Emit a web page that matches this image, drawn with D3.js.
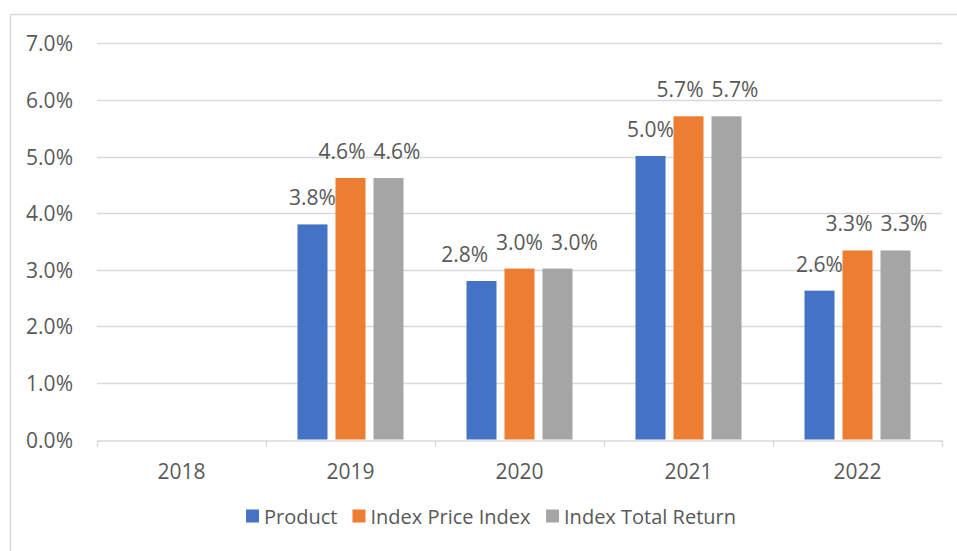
<!DOCTYPE html>
<html>
<head>
<meta charset="utf-8">
<script src="https://cdn.jsdelivr.net/npm/d3@7"></script>
<style>
  html, body { margin: 0; padding: 0; background: #fff; }
  svg { display: block; }
  text { font-family: "Open Sans", "Noto Sans", sans-serif; fill: #595959; }
</style>
</head>
<body>
<svg id="chart" width="957" height="551"></svg>
<script>
const categories = ["2018", "2019", "2020", "2021", "2022"];
const seriesNames = ["Product", "Index Price Index", "Index Total Return"];
const product = [null, 0.0380, 0.0280, 0.0501, 0.0263];
const indexPrice = [null, 0.0462, 0.0302, 0.0571, 0.0334];
const indexTotal = [null, 0.0462, 0.0302, 0.0571, 0.0334];
const yTicks = [0, 0.01, 0.02, 0.03, 0.04, 0.05, 0.06, 0.07];
const colors = ["#4472C4", "#ED7D31", "#A5A5A5"];

const seriesValues = [product, indexPrice, indexTotal];

const svg = d3.select("#chart");
const W = 957, H = 551;
const plot = { left: 97, right: 942, top: 43.3, bottom: 439.5 };
const numFont = "21px";

// outer chart border
svg.append("rect")
  .attr("x", 10.5).attr("y", 14.5)
  .attr("width", W + 20).attr("height", H + 20)
  .attr("fill", "none").attr("stroke", "#D9D9D9").attr("stroke-width", 1.5);

const x = d3.scaleBand().domain(categories).range([plot.left, plot.right]).padding(0);
const y = d3.scaleLinear().domain([0, 0.07]).range([plot.bottom, plot.top]);

const barW = 30, barGap = 8;
const groupW = 3 * barW + 2 * barGap;
const x1 = d3.scaleBand().domain(seriesNames)
  .range([0, groupW]).paddingInner(barGap / (barW + barGap)).paddingOuter(0);

// gridlines
const fmt = d3.format(".1%");
svg.append("g").selectAll("line").data(yTicks.filter(t => t > 0)).join("line")
  .attr("x1", plot.left).attr("x2", plot.right)
  .attr("y1", d => Math.round(y(d)) + 0.5).attr("y2", d => Math.round(y(d)) + 0.5)
  .attr("stroke", "#D9D9D9").attr("stroke-width", 1.3);

// y labels
svg.append("g").selectAll("text").data(yTicks).join("text")
  .attr("x", 73).attr("y", d => y(d))
  .attr("text-anchor", "end").attr("dominant-baseline", "central")
  .style("font-size", numFont)
  .text(d => fmt(d));

// x axis
const xAxis = d3.axisBottom(x).tickSize(0).tickFormat(d => d);
const xg = svg.append("g").attr("transform", `translate(0,${Math.round(plot.bottom) + 0.5})`).call(xAxis);
xg.select(".domain").attr("stroke", "#D9D9D9").attr("stroke-width", 1.3);
xg.selectAll(".tick text").attr("dy", null).attr("y", 38)
  .style("font-size", numFont).style("font-family", '"Open Sans", sans-serif').attr("fill", "#595959");
// band boundary ticks
const bounds = categories.map(c => x(c)).concat([x(categories[categories.length - 1]) + x.bandwidth()]);
svg.append("g").selectAll("line").data(bounds).join("line")
  .attr("x1", d => Math.round(d) + 0.5).attr("x2", d => Math.round(d) + 0.5)
  .attr("y1", Math.round(plot.bottom) + 0.5).attr("y2", Math.round(plot.bottom) + 7)
  .attr("stroke", "#D9D9D9").attr("stroke-width", 1.3);

// bars
const groups = svg.append("g").selectAll("g").data(categories).join("g")
  .attr("transform", d => `translate(${x(d) + (x.bandwidth() - groupW) / 2},0)`);

const barData = (c, i) => seriesNames.map((s, k) => ({ s, k, v: seriesValues[k][i] })).filter(d => d.v != null);

groups.selectAll("rect").data((c, i) => barData(c, i)).join("rect")
  .attr("x", d => x1(d.s)).attr("width", x1.bandwidth())
  .attr("y", d => y(d.v)).attr("height", d => y(0) - y(d.v))
  .attr("fill", d => colors[d.k]);

// data labels with simple overlap avoidance
groups.each(function () {
  const g = d3.select(this);
  const labels = g.selectAll("text.lbl").data(g.selectAll("rect").data()).join("text")
    .attr("class", "lbl")
    .attr("text-anchor", "middle")
    .style("font-size", numFont)
    .text(d => fmt(d.v));
  const L = [];
  labels.each(function (d) {
    L.push({ node: this, cx: x1(d.s) + x1.bandwidth() / 2, by: y(d.v) - 19, w: this.getComputedTextLength() });
  });
  const minGap = 8;
  for (let it = 0; it < 100; it++) {
    let moved = false;
    for (let a = 0; a < L.length - 1; a++) {
      const p = L[a], q = L[a + 1];
      if (Math.abs(p.by - q.by) < 15) {
        const need = (p.w + q.w) / 2 + minGap - (q.cx - p.cx);
        if (need > 0.01) { p.cx -= need / 2; q.cx += need / 2; moved = true; }
      }
    }
    if (!moved) break;
  }
  L.forEach(l => d3.select(l.node).attr("x", l.cx).attr("y", l.by));
});

// legend
const legend = svg.append("g");
const items = legend.selectAll("g").data(seriesNames).join("g");
items.append("rect").attr("width", 13).attr("height", 13).attr("y", -6.5)
  .attr("fill", (d, i) => colors[i]);
items.append("text").attr("x", 18).attr("dominant-baseline", "central")
  .style("font-size", "20px").text(d => d);
let cx = 0;
items.each(function () {
  d3.select(this).attr("transform", `translate(${cx},0)`);
  cx += this.getBBox().width + 15;
});
const totalW = cx - 15;
legend.attr("transform", `translate(${491 - totalW / 2},516)`);
</script>
</body>
</html>
